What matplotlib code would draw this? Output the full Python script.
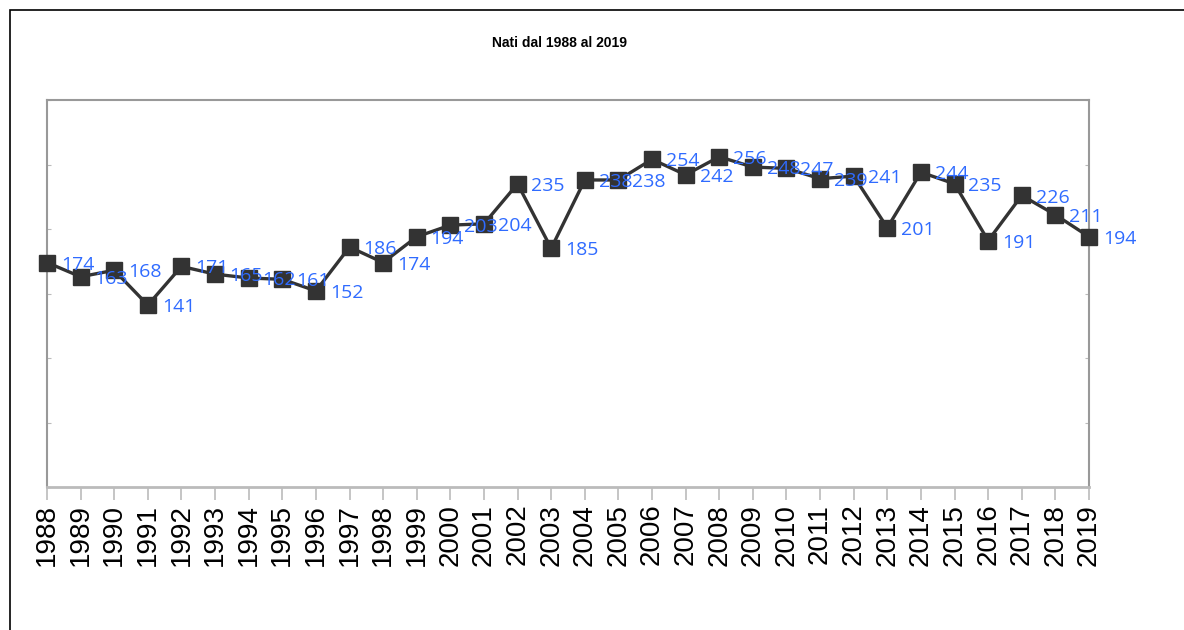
import matplotlib
matplotlib.use("Agg")
import matplotlib.pyplot as plt
from matplotlib.patches import Rectangle

years = list(range(1988, 2020))
births = [174, 163, 168, 141, 171, 165, 162, 161, 152, 186, 174, 194, 203, 204,
          235, 185, 238, 238, 254, 242, 256, 248, 247, 239, 241, 201, 244, 235,
          191, 226, 211, 194]
title = "Nati dal 1988 al 2019"

W, H = 1184, 630
fig = plt.figure(figsize=(W / 100, H / 100), dpi=100)
fig.patch.set_facecolor("white")

# outer border
fig.patches.append(Rectangle((10 / W, -0.05), 1.2, 1 - 10 / H + 0.05,
                             transform=fig.transFigure, fill=False,
                             edgecolor="black", linewidth=1.2))

ax = fig.add_axes([47 / W, (H - 487) / H, (1089 - 47) / W, (487 - 100) / H])
ax.plot(years, births, color="#333333", linewidth=2.4, marker="s",
        markersize=11, markerfacecolor="#333333", markeredgecolor="#333333",
        clip_on=False, zorder=3)

for x, y in zip(years, births):
    ax.annotate(str(y), (x, y), xytext=(10, -1.5), textcoords="offset points",
                ha="left", va="center", fontsize=14, color="#2f6bff",
                family=["Open Sans", "DejaVu Sans"], zorder=4)

ax.set_xlim(1988, 2019)
ax.set_ylim(0, 300)
ax.set_yticks(range(0, 301, 50))
ax.set_yticklabels([])
ax.tick_params(axis="y", direction="in", length=3, color="#bbbbbb",
               left=True, right=True)
ax.set_xticks(years)
ax.set_xticklabels([str(y) for y in years], rotation=90,
                   fontsize=20, family="Liberation Sans")
ax.tick_params(axis="x", direction="out", length=9, width=1.2,
               color="#bbbbbb", pad=3)
for side in ["left", "right", "top"]:
    ax.spines[side].set_color("#999999")
    ax.spines[side].set_linewidth(1.5)
ax.spines["bottom"].set_color("#bbbbbb")
ax.spines["bottom"].set_linewidth(2)

fig.text(560 / W, 1 - 43 / H, title, ha="center", va="center",
         fontsize=10, fontweight="bold", family="Liberation Sans")

fig.savefig("out.png", dpi=100)
